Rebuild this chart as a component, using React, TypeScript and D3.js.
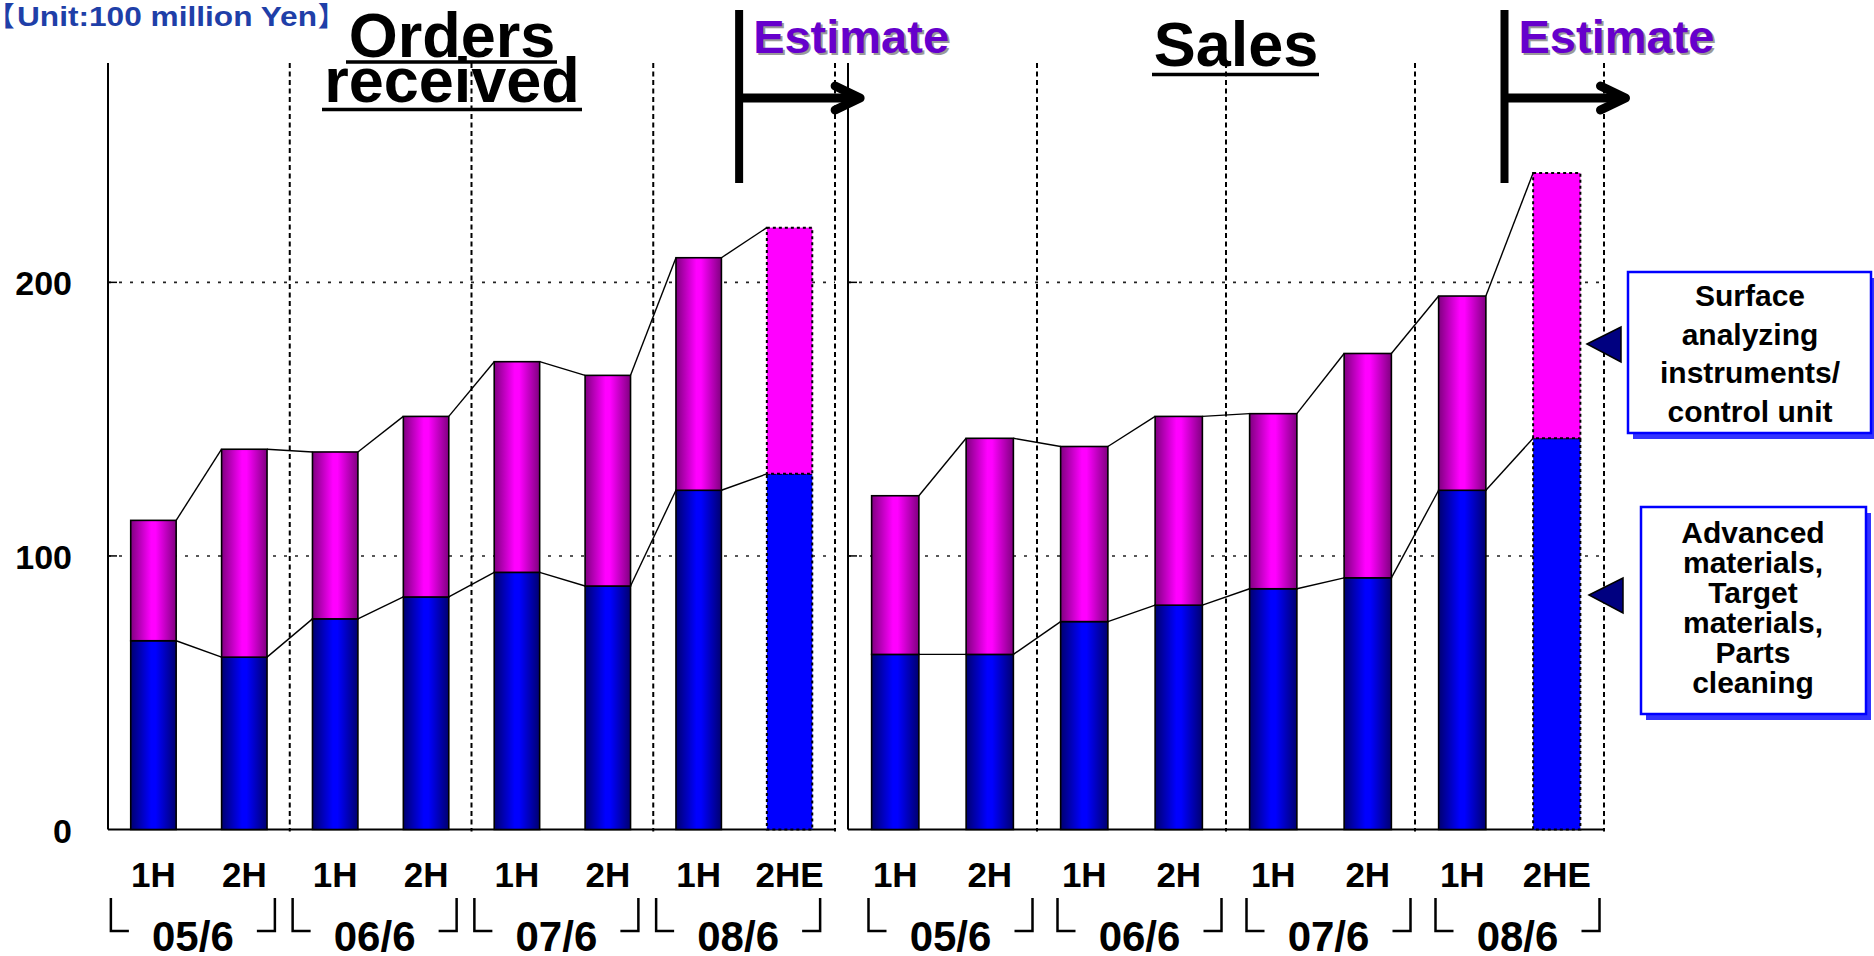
import React from "react";
import * as d3 from "d3";

const halfLabels = ["1H", "2H", "1H", "2H", "1H", "2H", "1H", "2HE"];
const yearLabels = ["05/6", "06/6", "07/6", "08/6"];
const ordersMaterials = [69, 63, 77, 85, 94, 89, 124, 130];
const ordersTotal = [113, 139, 138, 151, 171, 166, 209, 220];
const salesMaterials = [64, 64, 76, 82, 88, 92, 124, 143];
const salesTotal = [122, 143, 140, 151, 152, 174, 195, 240];
const yTicks = [0, 100, 200];
const gridTicks = [100, 200];
const estimateIndex = 7;
const legendSurface = ["Surface", "analyzing", "instruments/", "control unit"];
const legendMaterials = ["Advanced", "materials,", "Target", "materials,", "Parts", "cleaning"];

const FONT = "'Liberation Sans', Arial, Helvetica, sans-serif";
const CJK = "'Noto Sans CJK JP', sans-serif";
const W = 1874;
const H = 956;
const y = d3.scaleLinear().domain([0, 280]).range([829.5, 63.5]);

function Panel({ x0, x1, materials, total, showYLabels, labelShift }: any) {
  const x = d3
    .scaleBand<number>()
    .domain(d3.range(8))
    .range([x0, x1])
    .paddingInner(0.5)
    .paddingOuter(0.25);
  const bw = x.bandwidth();
  const step = x.step();
  const base = y(0);
  const top = 63;
  const conn = (vals: number[]) =>
    d3.range(vals.length - 1).map((i) => (
      <line
        key={i}
        x1={(x(i) as number) + bw}
        y1={y(vals[i])}
        x2={x(i + 1) as number}
        y2={y(vals[i + 1])}
        stroke="#000"
        strokeWidth={1.4}
      />
    ));
  const ex = (x(estimateIndex) as number) - step * 0.25 - 5;
  return (
    <g>
      {gridTicks.map((t) => (
        <g key={t}>
          <line x1={x0} x2={x1} y1={y(t)} y2={y(t)} stroke="#222" strokeWidth={1.6} strokeDasharray="3,8" />
          <line x1={x0} x2={x0 + 9} y1={y(t)} y2={y(t)} stroke="#000" strokeWidth={1.5} />
        </g>
      ))}
      {yearLabels.map((_, k) => {
        const sx = x0 + (k + 1) * 2 * step;
        return (
          <line key={k} x1={sx} x2={sx} y1={top} y2={base + 2} stroke="#000" strokeWidth={2} strokeDasharray="5,3.5" />
        );
      })}
      <line x1={x0} x2={x0} y1={top} y2={base} stroke="#000" strokeWidth={2} />
      <line x1={x0} x2={x1} y1={base} y2={base} stroke="#000" strokeWidth={2} />
      {total.map((tv: number, i: number) => {
        const bx = x(i) as number;
        const mv = materials[i];
        const est = i === estimateIndex;
        return (
          <g key={i}>
            <rect
              x={bx}
              y={y(mv)}
              width={bw}
              height={base - y(mv)}
              fill={est ? "#0000ff" : "url(#blueGrad)"}
              stroke="#000"
              strokeWidth={est ? 2 : 1.6}
              strokeDasharray={est ? "3,3" : undefined}
            />
            <rect
              x={bx}
              y={y(tv)}
              width={bw}
              height={y(mv) - y(tv)}
              fill={est ? "#ff00ff" : "url(#magGrad)"}
              stroke="#000"
              strokeWidth={est ? 2 : 1.6}
              strokeDasharray={est ? "3,3" : undefined}
            />
            <text
              x={bx + bw / 2}
              y={887}
              textAnchor="middle"
              fontFamily={FONT}
              fontWeight="bold"
              fontSize={35}
            >
              {halfLabels[i]}
            </text>
          </g>
        );
      })}
      {conn(total)}
      {conn(materials)}
      {showYLabels &&
        yTicks.map((t) => (
          <text key={t} x={72} y={y(t) + 13} textAnchor="end" fontFamily={FONT} fontWeight="bold" fontSize={34}>
            {t}
          </text>
        ))}
      {yearLabels.map((lab, k) => {
        const c = x0 + (2 * k + 1) * step + labelShift;
        return (
          <g key={lab}>
            <text x={c} y={951} textAnchor="middle" fontFamily={FONT} fontWeight="bold" fontSize={42}>
              {lab}
            </text>
            <path
              d={`M${c - 82},898 L${c - 82},931 L${c - 64},931`}
              fill="none"
              stroke="#000"
              strokeWidth={2.5}
            />
            <path
              d={`M${c + 64},931 L${c + 82},931 L${c + 82},898`}
              fill="none"
              stroke="#000"
              strokeWidth={2.5}
            />
          </g>
        );
      })}
      {/* Estimate marker */}
      <line x1={ex} x2={ex} y1={10} y2={183} stroke="#000" strokeWidth={8} />
      <line x1={ex} x2={ex + 118} y1={98} y2={98} stroke="#000" strokeWidth={9} />
      <path
        d={`M${ex + 96},86 L${ex + 121},98 L${ex + 96},110`}
        fill="none"
        stroke="#000"
        strokeWidth={9}
        strokeLinecap="round"
        strokeLinejoin="round"
      />
      <text x={ex + 16} y={55} fontFamily={FONT} fontWeight="bold" fontSize={47} fill="#9a9a9a">
        Estimate
      </text>
      <text x={ex + 14} y={53} fontFamily={FONT} fontWeight="bold" fontSize={47} fill="#6600cc">
        Estimate
      </text>
    </g>
  );
}

function LegendBox({ bx, by, bw, bh, lines, cx, firstBaseline, lineGap, tip }: any) {
  return (
    <g>
      <rect x={bx + 5} y={by + 6} width={bw} height={bh} fill="#3333ff" />
      <rect x={bx} y={by} width={bw} height={bh} fill="#fff" stroke="#0000ff" strokeWidth={2.5} />
      {lines.map((l: string, i: number) => (
        <text
          key={i}
          x={cx}
          y={firstBaseline + i * lineGap}
          textAnchor="middle"
          fontFamily={FONT}
          fontWeight="bold"
          fontSize={30}
        >
          {l}
        </text>
      ))}
      <path
        d={`M${tip[0]},${tip[1]} L${tip[0] + 34},${tip[1] - 17} L${tip[0] + 34},${tip[1] + 18} Z`}
        fill="#000080"
        stroke="#000"
        strokeWidth={1.5}
      />
    </g>
  );
}

export default function App() {
  return (
    <svg
      width={W}
      height={H}
      viewBox={`0 0 ${W} ${H}`}
      style={{ position: "fixed", left: 0, top: 0, background: "#fff" }}
    >
      <defs>
        <linearGradient id="blueGrad" x1="0" x2="1" y1="0" y2="0">
          <stop offset="0" stopColor="#000070" />
          <stop offset="0.45" stopColor="#0000ff" />
          <stop offset="0.55" stopColor="#0000ff" />
          <stop offset="1" stopColor="#000070" />
        </linearGradient>
        <linearGradient id="magGrad" x1="0" x2="1" y1="0" y2="0">
          <stop offset="0" stopColor="#800080" />
          <stop offset="0.45" stopColor="#ff00ff" />
          <stop offset="0.55" stopColor="#ff00ff" />
          <stop offset="1" stopColor="#800080" />
        </linearGradient>
      </defs>
      <rect x={0} y={0} width={W} height={H} fill="#fff" />

      <text
        x={1}
        y={26}
        fontFamily={CJK}
        fontWeight="bold"
        fontSize={27}
        fill="#1f3fa8"
        style={{ fontFeatureSettings: '"halt"' }}
      >
        【
      </text>
      <text
        x={17}
        y={26}
        fontFamily={FONT}
        fontWeight="bold"
        fontSize={27}
        fill="#1f3fa8"
        textLength={300}
        lengthAdjust="spacingAndGlyphs"
      >
        Unit:100 million Yen
      </text>
      <text
        x={318}
        y={26}
        fontFamily={CJK}
        fontWeight="bold"
        fontSize={27}
        fill="#1f3fa8"
        style={{ fontFeatureSettings: '"halt"' }}
      >
        】
      </text>

      <Panel x0={108} x1={835} materials={ordersMaterials} total={ordersTotal} showYLabels={true} labelShift={-6} />
      <Panel x0={848} x1={1604} materials={salesMaterials} total={salesTotal} showYLabels={false} labelShift={8} />

      <text x={452} y={57} textAnchor="middle" fontFamily={FONT} fontWeight="bold" fontSize={63}>
        Orders
      </text>
      <line x1={346} x2={557} y1={62} y2={62} stroke="#000" strokeWidth={3.5} />
      <text x={452} y={102} textAnchor="middle" fontFamily={FONT} fontWeight="bold" fontSize={63}>
        received
      </text>
      <line x1={322} x2={582} y1={109.5} y2={109.5} stroke="#000" strokeWidth={3.5} />
      <text x={1236} y={66} textAnchor="middle" fontFamily={FONT} fontWeight="bold" fontSize={63}>
        Sales
      </text>
      <line x1={1152} x2={1319} y1={74.5} y2={74.5} stroke="#000" strokeWidth={3.5} />

      <LegendBox
        bx={1628}
        by={272}
        bw={243}
        bh={161}
        lines={legendSurface}
        cx={1750}
        firstBaseline={306}
        lineGap={38.5}
        tip={[1587, 344]}
      />
      <LegendBox
        bx={1641}
        by={507}
        bw={225}
        bh={207}
        lines={legendMaterials}
        cx={1753}
        firstBaseline={543}
        lineGap={30}
        tip={[1589, 595]}
      />
    </svg>
  );
}
